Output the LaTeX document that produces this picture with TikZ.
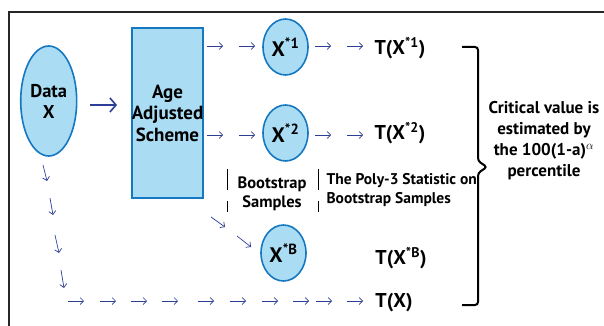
\documentclass[tikz,border=0pt]{standalone}
\usepackage{fontspec}
\setmainfont{PT Sans}
\usetikzlibrary{arrows.meta,shapes.geometric,positioning}
\definecolor{fillblue}{RGB}{170,220,243}
\definecolor{edgeblue}{RGB}{22,120,192}
\definecolor{arrowblue}{RGB}{45,62,150}
\tikzset{
>=Stealth,
sample node/.style={ellipse,draw=edgeblue,fill=fillblue,line width=1.6pt,inner sep=0pt,minimum width=45pt,minimum height=56pt,font=\fontsize{21}{22}\selectfont\bfseries},
scheme box/.style={draw=edgeblue,fill=fillblue,line width=1.4pt},
stat node/.style={font=\fontsize{20}{22}\selectfont\bfseries},
testo/.style={font=\fontsize{17}{21}\selectfont\bfseries,align=center},
freccia/.style={-{Straight Barb[length=3.5pt,width=7pt]},draw=arrowblue,line width=0.7pt},
freccia grande/.style={-{Straight Barb[length=6pt,width=14pt]},draw=arrowblue,line width=1.6pt}}

\begin{document}
\begin{tikzpicture}[x=1pt,y=-1pt]
\useasboundingbox (0,0) rectangle (604,326);

% frame
\draw[line width=2pt,black!85] (9,326) -- (9,12) -- (604,12);

% data and scheme
\node[sample node,minimum width=56pt,minimum height=110pt,font=\fontsize{18.5}{21}\selectfont\bfseries,align=center] (data) at (48.7,101) {Data\\X};
\draw[scheme box] (132,28) rectangle (203,198);
\node[testo,font=\fontsize{19}{21.5}\selectfont\bfseries] (scheme) at (167.5,113) {Age\\Adjusted\\Scheme};

\coordinate (big a) at (90,105);
\coordinate (big b) at (117,105);
\draw[freccia grande] (big a) -- (big b);

% bootstrap samples
\node[sample node] (x1) at (285.5,47) {X\textsuperscript{*1}};
\node[sample node] (x2) at (285.5,133) {X\textsuperscript{*2}};
\node[sample node] (xB) at (283.5,253) {X\textsuperscript{*B}};

\node[stat node] (t1) at (400,48) {T(X\textsuperscript{*1})};
\node[stat node] (t2) at (400,133) {T(X\textsuperscript{*2})};
\node[stat node] (tB) at (401,258) {T(X\textsuperscript{*B})};
\node[stat node] (tX) at (394,303) {T(X)};

% small arrows
\foreach \x [count=\i] in {207,239,315,347}{
  \coordinate (r1s\i) at (\x,46);
  \coordinate (r1e\i) at (\x+16,46);
  \draw[freccia] (r1s\i) -- (r1e\i);
  \coordinate (r2s\i) at (\x,135);
  \coordinate (r2e\i) at (\x+16,135);
  \draw[freccia] (r2s\i) -- (r2e\i);
}
\foreach \xa/\ya/\xb/\yb [count=\i] in {211/217/225/227,237/236/251/247,43/165/47/181,50/198/53/215,55/235/59/253,61/270/64/288}{
  \coordinate (ds\i) at (\xa,\ya);
  \coordinate (de\i) at (\xb,\yb);
  \draw[freccia] (ds\i) -- (de\i);
}
\foreach \x [count=\i] in {68,100,131,162,198,230,262,293,316,347}{
  \coordinate (bs\i) at (\x,301);
  \coordinate (be\i) at (\x+16,301);
  \draw[freccia] (bs\i) -- (be\i);
}

% labels between bars
\draw[line width=1pt] (227,169) -- (227,190) (227,201) -- (227,212);
\draw[line width=1pt] (318,169) -- (318,190) (318,201) -- (318,212);
\node[testo,font=\fontsize{16.5}{19.5}\selectfont\bfseries] (boot) at (272,194) {Bootstrap\\Samples};
\node[testo,font=\fontsize{15.5}{19.5}\selectfont\bfseries,align=left,anchor=west] (poly) at (323,190) {The Poly-3 Statistic on\\Bootstrap Samples};

% brace
\draw[line width=2pt,rounded corners=3pt] (462,47) -- (478,47) -- (478,161) -- (487,167) -- (478,173) -- (478,305) -- (462,305);
\node[testo] (crit) at (544,141) {Critical value is\\estimated by\\the 100(1-a)$^{\alpha}$\\percentile};

\end{tikzpicture}
\end{document}
